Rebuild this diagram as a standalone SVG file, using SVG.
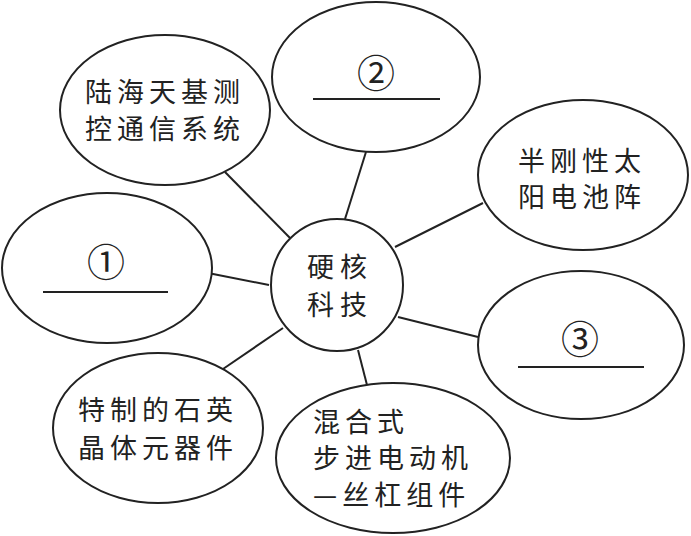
<svg xmlns="http://www.w3.org/2000/svg" width="691" height="536" viewBox="0 0 691 536">
<style>
.n{fill:#fff;stroke:#222;stroke-width:2}
.c line{stroke:#222;stroke-width:2}
.u{stroke:#222;stroke-width:2}
text{font-family:"Noto Sans CJK SC","Noto Sans CJK TC",sans-serif;font-size:27px;fill:#222;letter-spacing:5px}
.num{font-size:38px;letter-spacing:0;text-anchor:middle}
</style>
<rect width="691" height="536" fill="#fff"/>
<g id="connectors" class="c">
<line x1="225" y1="172" x2="290" y2="238"/>
<line x1="366" y1="152" x2="345" y2="219"/>
<line x1="483" y1="203" x2="395" y2="247"/>
<line x1="208" y1="273" x2="269" y2="285"/>
<line x1="223" y1="369" x2="283" y2="328"/>
<line x1="398" y1="317" x2="478" y2="337"/>
<line x1="358" y1="350" x2="367" y2="385"/>
</g>
<g id="center">
<circle class="n" cx="337" cy="285" r="66"/>
<text x="307" y="277" style="letter-spacing:6px">硬核</text>
<text x="307" y="315" style="letter-spacing:6px">科技</text>
</g>
<g id="n-tracking">
<ellipse class="n" cx="165" cy="110" rx="105" ry="75"/>
<text x="85" y="102">陆海天基测</text>
<text x="85" y="139">控通信系统</text>
</g>
<g id="n2">
<ellipse class="n" cx="376" cy="77" rx="104" ry="75"/>
<text class="num" x="376" y="87">②</text>
<line class="u" x1="313" y1="99" x2="440" y2="99"/>
</g>
<g id="n-solar">
<ellipse class="n" cx="583" cy="175" rx="105" ry="75"/>
<text x="518" y="171">半刚性太</text>
<text x="518" y="207">阳电池阵</text>
</g>
<g id="n1">
<ellipse class="n" cx="107" cy="268" rx="105" ry="75"/>
<text class="num" x="106" y="276">①</text>
<line class="u" x1="43" y1="292" x2="168" y2="292"/>
</g>
<g id="n3">
<ellipse class="n" cx="581" cy="345" rx="103" ry="74"/>
<text class="num" x="580" y="353">③</text>
<line class="u" x1="518" y1="367" x2="644" y2="367"/>
</g>
<g id="n-quartz">
<ellipse class="n" cx="158" cy="428" rx="105" ry="75"/>
<text x="78" y="420">特制的石英</text>
<text x="78" y="458">晶体元器件</text>
</g>
<g id="n-motor">
<ellipse class="n" cx="393" cy="458" rx="117" ry="75"/>
<text x="313" y="432">混合式</text>
<text x="313" y="468">步进电动机</text>
<text x="313" y="505">—丝杠组件</text>
</g>
</svg>
